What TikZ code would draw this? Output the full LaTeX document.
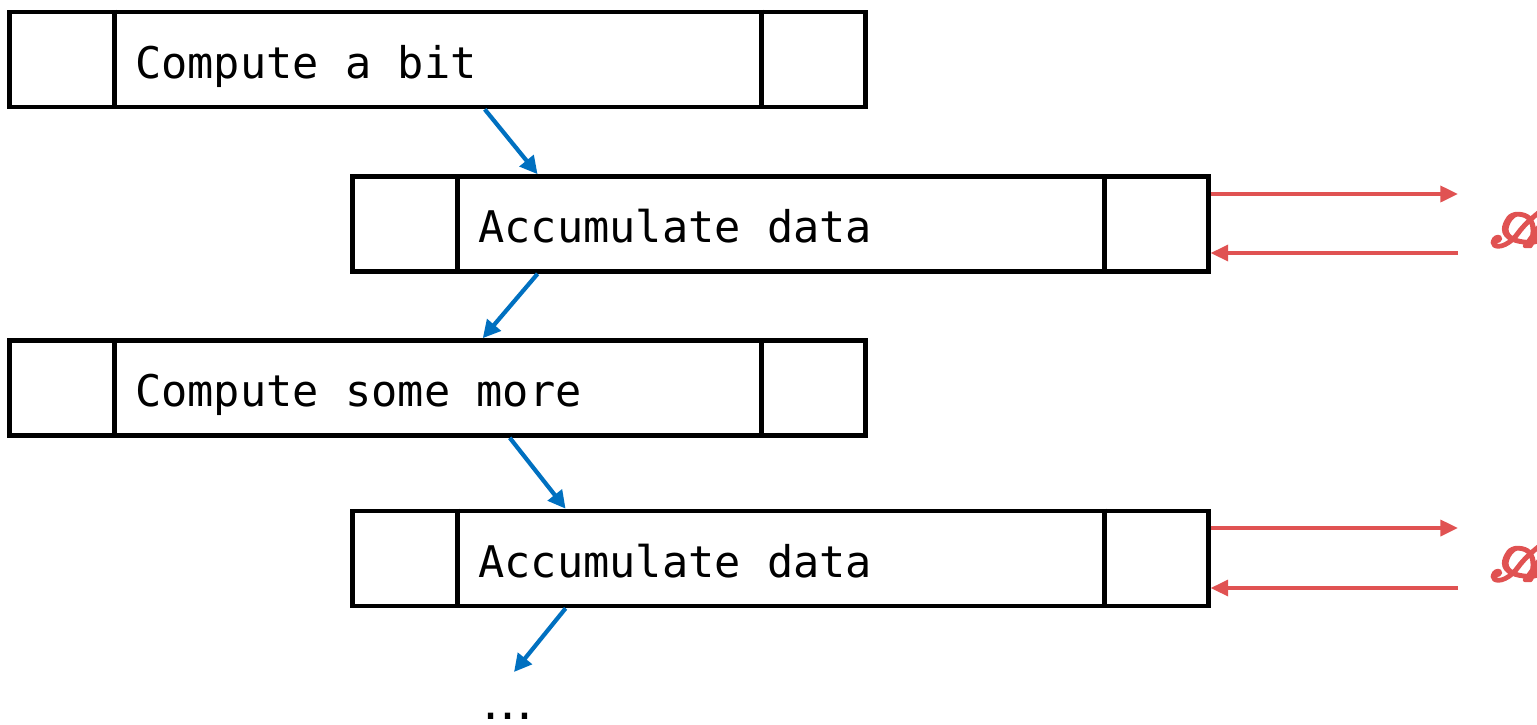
\documentclass[tikz,border=0pt]{standalone}
\usepackage{fontspec}
\setmonofont{DejaVu Sans Mono}
\newfontfamily\dotsfont{DejaVu Sans}
\usepackage{mathrsfs}
\usetikzlibrary{arrows.meta}

\definecolor{flowblue}{RGB}{0,112,192}
\definecolor{linkred}{RGB}{224,82,82}

% heavier script letter: fill and stroke the glyph outline
\newcommand{\heavyscript}[1]{\special{pdf:literal 2 Tr 0.9 w}$\mathscr{#1}$\special{pdf:literal 0 Tr}}

\tikzset{
  stage/.style={draw, line width=1.3pt, minimum width=8.55cm, minimum height=0.95cm, inner sep=0pt},
  steplabel/.style={anchor=base west, inner sep=0pt, font=\fontsize{12.4}{15}\selectfont\ttfamily},
  flow/.style={flowblue, line width=1.2pt, -{Triangle[length=5pt,width=5pt]}},
  link/.style={linkred, line width=1.1pt, -{Triangle[length=5pt,width=4.5pt]}},
  remote/.style={text=linkred, anchor=west, inner sep=0pt, font=\fontsize{20.74}{24}\selectfont},
}

\begin{document}
\begin{tikzpicture}[x=0.01cm, y=-0.01cm]
  \useasboundingbox (0,0) rectangle (1537,724);

  % the four stages
  \node[stage] (comp1) at (437.5,59.5) {};
  \node[stage] (acc1) at (780.5,224) {};
  \node[stage] (comp2) at (437.5,388) {};
  \node[stage] (acc2) at (780.5,558.5) {};

  \foreach \b in {comp1,acc1,comp2,acc2}
    \draw[line width=1.3pt]
      ([xshift=1.07cm]\b.north west) -- ([xshift=1.07cm]\b.south west)
      ([xshift=-1.06cm]\b.north east) -- ([xshift=-1.06cm]\b.south east);

  \node[steplabel] (comp1txt) at ([shift={(1.27cm,-0.185cm)}]comp1.west) {Compute a bit};
  \node[steplabel] (acc1txt) at ([shift={(1.27cm,-0.185cm)}]acc1.west) {Accumulate data};
  \node[steplabel] (comp2txt) at ([shift={(1.27cm,-0.185cm)}]comp2.west) {Compute some more};
  \node[steplabel] (acc2txt) at ([shift={(1.27cm,-0.185cm)}]acc2.west) {Accumulate data};

  % the remote side, cut off at the right edge
  \node[remote] (api1) at (1489,221) {\heavyscript{A}};
  \node[remote] (api2) at (1489,555) {\heavyscript{A}};

  \coordinate (out1) at (1458,194);
  \coordinate (in1) at (1458,253);
  \coordinate (out2) at (1458,528);
  \coordinate (in2) at (1458,588);
  \coordinate (next) at (514,672);

  \node[font=\dotsfont\fontsize{14.5}{16}\selectfont, inner sep=0pt, anchor=base] (more) at (508,719) {\symbol{"2026}};

  % control flow
  \draw[flow] ([xshift=4.77cm]comp1.south west) -- ([xshift=1.87cm]acc1.north west);
  \draw[flow] ([xshift=1.87cm]acc1.south west) -- ([xshift=4.75cm]comp2.north west);
  \draw[flow] ([xshift=5.02cm]comp2.south west) -- ([xshift=2.15cm]acc2.north west);
  \draw[flow] ([xshift=2.15cm]acc2.south west) -- (next);

  % requests and replies
  \draw[link] (acc1.east |- out1) -- (out1);
  \draw[link] (in1) -- (acc1.east |- in1);
  \draw[link] (acc2.east |- out2) -- (out2);
  \draw[link] (in2) -- (acc2.east |- in2);
\end{tikzpicture}
\end{document}
